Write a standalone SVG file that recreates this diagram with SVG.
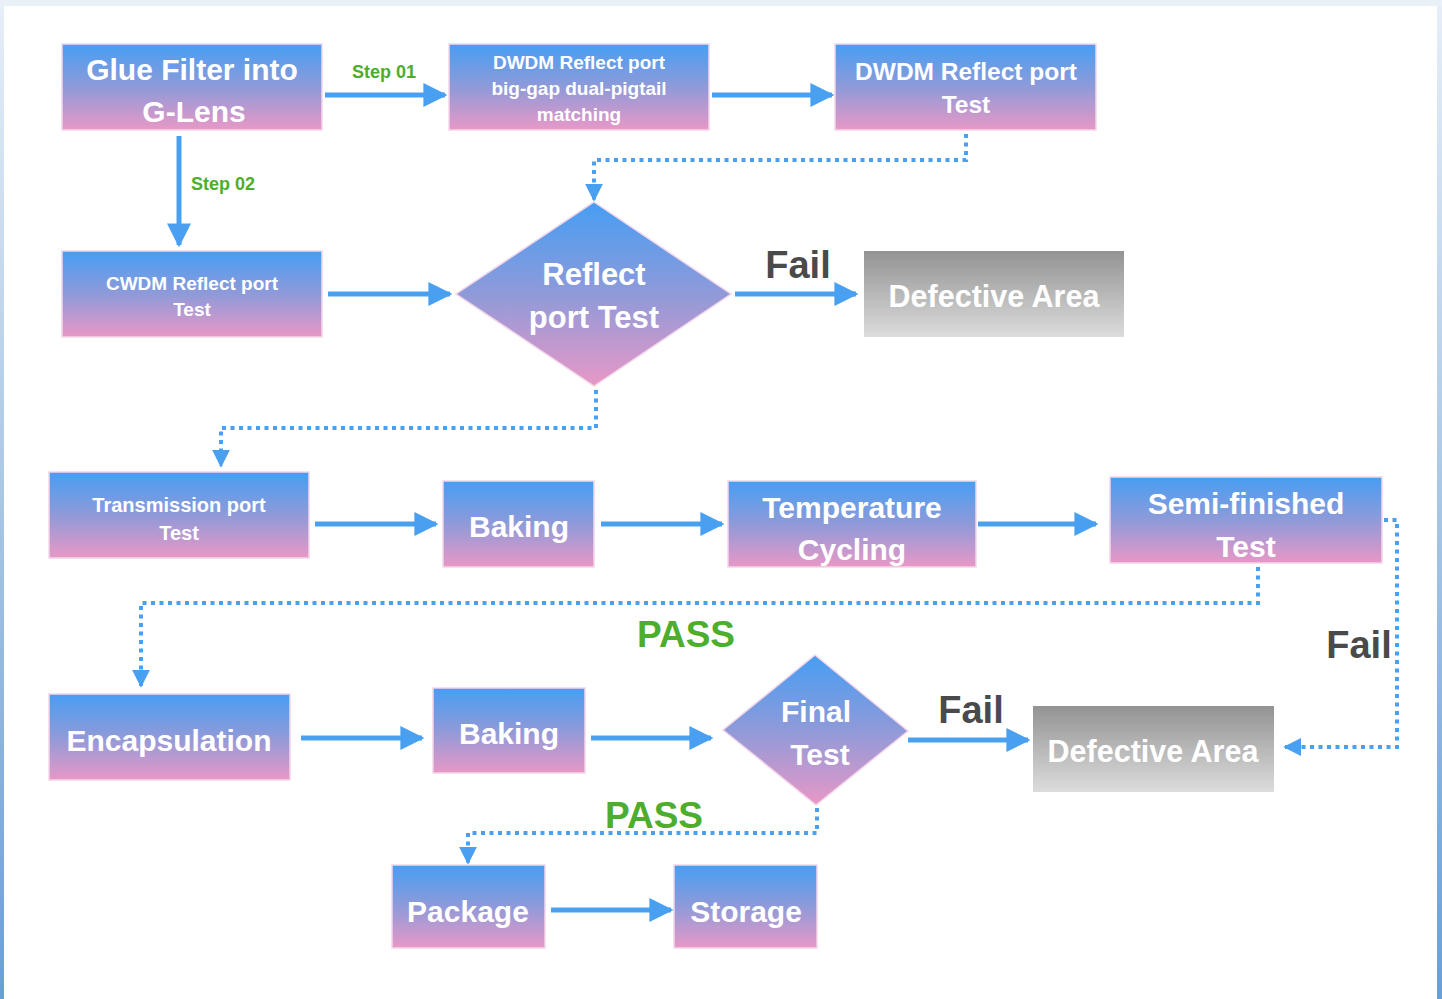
<svg xmlns="http://www.w3.org/2000/svg" width="1442" height="999" viewBox="0 0 1442 999">
<style>
.box{stroke:#f4d6ea;stroke-width:1.5}
.t{font-family:"Liberation Sans",Arial,sans-serif;font-weight:bold;fill:#fff;text-anchor:middle}
.solid{stroke:#4aa0f0;stroke-width:5;fill:none}
.dot{stroke:#4aa0f0;stroke-width:4;fill:none;stroke-dasharray:4 4.5}
.lbl{font-family:"Liberation Sans",Arial,sans-serif;font-weight:bold}
.green{fill:#4cae2c}
.gray{fill:#4a4a4a}
</style>
<defs>
<linearGradient id="bp" x1="0" y1="0" x2="0" y2="1">
<stop offset="0" stop-color="#469ef3"/>
<stop offset="0.5" stop-color="#8f9ad9"/>
<stop offset="1" stop-color="#e898c6"/>
</linearGradient>
<linearGradient id="gr" x1="0" y1="0" x2="0" y2="1">
<stop offset="0" stop-color="#939393"/>
<stop offset="1" stop-color="#dcdcdc"/>
</linearGradient>
<linearGradient id="edge" x1="0" y1="0" x2="0" y2="1">
<stop offset="0" stop-color="#e6eef8"/>
<stop offset="1" stop-color="#6a9fd4"/>
</linearGradient>
<marker id="ah" viewBox="0 0 10 10" refX="9" refY="5" markerWidth="4.8" markerHeight="5.4" orient="auto" markerUnits="strokeWidth">
<path d="M0,0 L10,5 L0,10 z" fill="#4aa0f0"/>
</marker>
<marker id="ahd" viewBox="0 0 10 10" refX="9" refY="5" markerWidth="4.5" markerHeight="4.8" orient="auto" markerUnits="strokeWidth">
<path d="M0,0 L10,5 L0,10 z" fill="#4aa0f0"/>
</marker>
</defs>
<rect x="0" y="0" width="1442" height="999" fill="#e9f0f8"/>
<rect x="0" y="6" width="4" height="993" fill="url(#edge)"/>
<rect x="1437" y="6" width="5" height="993" fill="url(#edge)"/>
<rect x="4" y="6" width="1433" height="993" fill="#fff"/>

<g id="connectors">
<line class="solid" x1="325" y1="95" x2="445" y2="95" marker-end="url(#ah)"/>
<line class="solid" x1="712" y1="95" x2="832" y2="95" marker-end="url(#ah)"/>
<line class="solid" x1="179" y1="136" x2="179" y2="245" marker-end="url(#ah)"/>
<line class="solid" x1="328" y1="294" x2="450" y2="294" marker-end="url(#ah)"/>
<line class="solid" x1="735" y1="294" x2="856" y2="294" marker-end="url(#ah)"/>
<line class="solid" x1="315" y1="524" x2="436" y2="524" marker-end="url(#ah)"/>
<line class="solid" x1="601" y1="524" x2="722" y2="524" marker-end="url(#ah)"/>
<line class="solid" x1="978" y1="524" x2="1096" y2="524" marker-end="url(#ah)"/>
<line class="solid" x1="301" y1="738" x2="422" y2="738" marker-end="url(#ah)"/>
<line class="solid" x1="591" y1="738" x2="711" y2="738" marker-end="url(#ah)"/>
<line class="solid" x1="908" y1="740" x2="1028" y2="740" marker-end="url(#ah)"/>
<line class="solid" x1="551" y1="910" x2="671" y2="910" marker-end="url(#ah)"/>
<polyline class="dot" points="966,134 966,160 594,160 594,200" marker-end="url(#ahd)"/>
<polyline class="dot" points="596,390 596,428 221,428 221,466" marker-end="url(#ahd)"/>
<polyline class="dot" points="1258,567 1258,603 141,603 141,686" marker-end="url(#ahd)"/>
<polyline class="dot" points="1384,520 1397,520 1397,747 1285,747" marker-end="url(#ahd)"/>
<polyline class="dot" points="817,808 817,833 468,833 468,863" marker-end="url(#ahd)"/>
<text class="lbl green" x="384" y="78" font-size="18" text-anchor="middle">Step 01</text>
<text class="lbl green" x="223" y="190" font-size="18" text-anchor="middle">Step 02</text>
<text class="lbl gray" x="798" y="278" font-size="38" text-anchor="middle">Fail</text>
<text class="lbl green" x="686" y="647" font-size="37" text-anchor="middle">PASS</text>
<text class="lbl gray" x="1359" y="658" font-size="38" text-anchor="middle">Fail</text>
<text class="lbl gray" x="971" y="723" font-size="38" text-anchor="middle">Fail</text>
<text class="lbl green" x="654" y="828" font-size="37" text-anchor="middle">PASS</text>
</g>

<g id="glue">
<rect class="box" x="62" y="44" width="260" height="86" fill="url(#bp)"/>
<text class="t" x="192" y="80" font-size="30">Glue Filter into</text>
<text class="t" x="194" y="122" font-size="30">G-Lens</text>
</g>
<g id="dwdm-match">
<rect class="box" x="449" y="44" width="260" height="86" fill="url(#bp)"/>
<text class="t" x="579" y="69" font-size="19">DWDM Reflect port</text>
<text class="t" x="579" y="95" font-size="19">big-gap dual-pigtail</text>
<text class="t" x="579" y="121" font-size="19">matching</text>
</g>
<g id="dwdm-test">
<rect class="box" x="835" y="44" width="261" height="86" fill="url(#bp)"/>
<text class="t" x="966" y="80" font-size="24.5">DWDM Reflect port</text>
<text class="t" x="966" y="113" font-size="24.5">Test</text>
</g>
<g id="cwdm-test">
<rect class="box" x="62" y="251" width="260" height="86" fill="url(#bp)"/>
<text class="t" x="192" y="290" font-size="19">CWDM Reflect port</text>
<text class="t" x="192" y="316" font-size="19">Test</text>
</g>
<g id="reflect-decision">
<polygon class="box" points="594,202 731,294 594,386 456,294" fill="url(#bp)"/>
<text class="t" x="594" y="285" font-size="31">Reflect</text>
<text class="t" x="594" y="328" font-size="31">port Test</text>
</g>
<g id="defective-1">
<rect x="864" y="251" width="260" height="86" fill="url(#gr)"/>
<text class="t" x="994" y="307" font-size="30.5">Defective Area</text>
</g>
<g id="transmission-test">
<rect class="box" x="49" y="472" width="260" height="86" fill="url(#bp)"/>
<text class="t" x="179" y="512" font-size="20">Transmission port</text>
<text class="t" x="179" y="540" font-size="20">Test</text>
</g>
<g id="baking-1">
<rect class="box" x="443" y="481" width="151" height="86" fill="url(#bp)"/>
<text class="t" x="519" y="537" font-size="30">Baking</text>
</g>
<g id="temp-cycling">
<rect class="box" x="728" y="481" width="248" height="86" fill="url(#bp)"/>
<text class="t" x="852" y="518" font-size="30">Temperature</text>
<text class="t" x="852" y="560" font-size="30">Cycling</text>
</g>
<g id="semi-test">
<rect class="box" x="1110" y="477" width="272" height="86" fill="url(#bp)"/>
<text class="t" x="1246" y="514" font-size="30">Semi-finished</text>
<text class="t" x="1246" y="557" font-size="30">Test</text>
</g>
<g id="encapsulation">
<rect class="box" x="49" y="694" width="241" height="86" fill="url(#bp)"/>
<text class="t" x="169" y="751" font-size="30">Encapsulation</text>
</g>
<g id="baking-2">
<rect class="box" x="433" y="688" width="152" height="85" fill="url(#bp)"/>
<text class="t" x="509" y="744" font-size="30">Baking</text>
</g>
<g id="final-decision">
<polygon class="box" points="815,655 908,731 816,805 723,730" fill="url(#bp)"/>
<text class="t" x="816" y="722" font-size="30">Final</text>
<text class="t" x="820" y="765" font-size="30">Test</text>
</g>
<g id="defective-2">
<rect x="1033" y="706" width="241" height="86" fill="url(#gr)"/>
<text class="t" x="1153" y="762" font-size="30.5">Defective Area</text>
</g>
<g id="package">
<rect class="box" x="392" y="865" width="153" height="83" fill="url(#bp)"/>
<text class="t" x="468" y="922" font-size="30">Package</text>
</g>
<g id="storage">
<rect class="box" x="674" y="865" width="143" height="83" fill="url(#bp)"/>
<text class="t" x="746" y="922" font-size="30">Storage</text>
</g>
</svg>
